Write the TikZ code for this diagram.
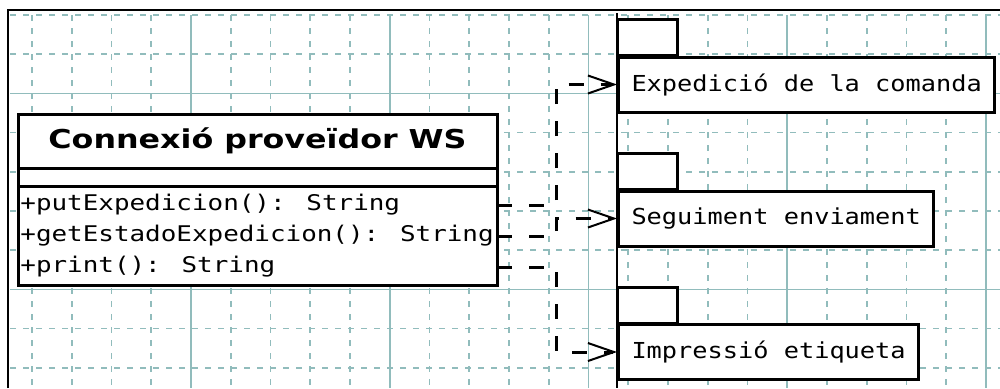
\documentclass[tikz,border=0pt]{standalone}
\usepackage{fontspec}
\usepackage{tikz}
\usetikzlibrary{arrows.meta,positioning,calc}
\newfontfamily\titlefont[FakeStretch=1.22]{DejaVu Sans}
\newfontfamily\methfont[FakeStretch=1.2]{DejaVu Sans Mono}
\newfontfamily\pkgfont[FakeStretch=1.15]{DejaVu Sans Mono}
\definecolor{gridc}{RGB}{145,188,188}
\tikzset{
  minor/.style={draw=gridc,line width=0.8pt,dash pattern=on 3pt off 3.5pt},
  major/.style={draw=gridc,line width=0.9pt},
  cls/.style={draw,fill=white,line width=1.5pt,minimum width=239.5pt,inner sep=0pt,outer sep=0pt,anchor=north west},
  meth/.style={font=\methfont\fontsize{10.8}{12}\selectfont,inner xsep=1pt,inner ysep=0pt,anchor=west},
  pkg/.style={draw,fill=white,line width=1.5pt,font=\pkgfont\fontsize{11}{13}\selectfont,inner xsep=6.5pt,minimum height=27.5pt,anchor=west},
  tab/.style={draw,fill=white,line width=1.5pt},
  dep/.style={line width=1.5pt,dash pattern=on 7.5pt off 8.5pt,-{Straight Barb[length=13pt,width=9pt,line width=1pt]}}
}
\begin{document}
\begin{tikzpicture}[x=0.5pt,y=-0.5pt]
\useasboundingbox (0,0) rectangle (1000,388);
% grid
\foreach \i in {0,...,24} \draw[minor] (32+39.75*\i,15) -- (32+39.75*\i,388);
\foreach \j in {0,...,9} \draw[minor] (10,15+39.2*\j) -- (1000,15+39.2*\j);
\foreach \i in {4,9,14,19,24} \draw[major] (32+39.75*\i,15) -- (32+39.75*\i,388);
\foreach \j in {2,7} \draw[major] (10,15+39.2*\j) -- (1000,15+39.2*\j);
% frame
\draw[line width=1pt] (8,388) -- (8,10) -- (1000,10);
\draw[line width=0.6pt] (617,13) -- (617,388);
% class
\node[cls,minimum height=27pt,font=\titlefont\bfseries\fontsize{13}{15}\selectfont] (title) at (18,114) {Connexió proveïdor WS};
\node[cls,minimum height=9pt] (attr) at (title.south west) {};
\node[cls,minimum height=49.5pt] (ops) at (attr.south west) {};
\node[meth] (m1) at (18,205) {+putExpedicion(): String};
\node[meth] (m2) at (18,236) {+getEstadoExpedicion(): String};
\node[meth] (m3) at (18,267) {+print(): String};
% packages
\node[pkg] (p1) at (617,84.5) {Expedició de la comanda};
\node[pkg] (p2) at (617,218.5) {Seguiment enviament};
\node[pkg] (p3) at (617,352) {Impressió etiqueta};
\draw[tab] (p1.north west) rectangle ++(60,-36);
\draw[tab] (p2.north west) rectangle ++(60,-36);
\draw[tab] (p3.north west) rectangle ++(60,-36);
% dependencies
\coordinate (bus) at (556,0);
\draw[dep] (m1 -| ops.east) -- (m1 -| bus) |- (p1.west);
\draw[dep] (m2 -| ops.east) -- (m2 -| bus) |- (p2.west);
\draw[dep] (m3 -| ops.east) -- (m3 -| bus) |- (p3.west);
\end{tikzpicture}
\end{document}
